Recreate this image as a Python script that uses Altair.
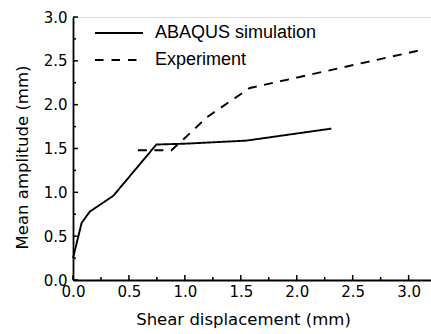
import altair as alt
import pandas as pd

# Mean amplitude vs shear displacement
sim_x = [0.0, 0.077, 0.15, 0.36, 0.745, 1.0, 1.55, 2.31]
sim_y = [0.25, 0.65, 0.78, 0.96, 1.545, 1.555, 1.59, 1.727]

exp_x = [0.58, 0.88, 1.0, 1.2, 1.58, 3.1]
exp_y = [1.48, 1.48, 1.62, 1.86, 2.19, 2.62]

series_names = ["ABAQUS simulation", "Experiment"]
series_dash = [[1, 0], [9, 7.5]]

x_major = [0.0, 0.5, 1.0, 1.5, 2.0, 2.5, 3.0]
x_minor = [0.25, 0.75, 1.25, 1.75, 2.25, 2.75]
y_major = [0.0, 0.5, 1.0, 1.5, 2.0, 2.5, 3.0]
y_minor = [0.25, 0.75, 1.25, 1.75, 2.25, 2.75]

rows = []
for i, (x, y) in enumerate(zip(sim_x, sim_y)):
    rows.append({"series": series_names[0], "x": x, "y": y, "i": i})
for i, (x, y) in enumerate(zip(exp_x, exp_y)):
    rows.append({"series": series_names[1], "x": x, "y": y, "i": i})
df = pd.DataFrame(rows)

W, H = 358, 263
AX_FONT = "DejaVu Sans"

x_scale = alt.Scale(domain=[0, 3.2], nice=False, zero=False)
y_scale = alt.Scale(domain=[0, 3.0], nice=False, zero=False)

x_axis = alt.Axis(
    title="Shear displacement (mm)", values=x_major, format=".1f",
    ticks=False, tickSize=0, grid=False, domainColor="black", domainWidth=1.8,
    labelFont=AX_FONT, labelFontSize=15, labelColor="black", labelPadding=4,
    labelOverlap=False, labelFlush=False,
    titleFont=AX_FONT, titleFontSize=16.5, titleFontWeight="normal", titleColor="black",
    titleX=170, titleY=39, titleBaseline="middle", titleAlign="center",
)
y_axis = alt.Axis(
    title="Mean amplitude (mm)", values=y_major, format=".1f",
    ticks=False, tickSize=0, grid=False, domainColor="black", domainWidth=1.8,
    labelFont=AX_FONT, labelFontSize=15, labelColor="black", labelPadding=6,
    labelOverlap=False, labelFlush=False,
    titleFont=AX_FONT, titleFontSize=16.5, titleFontWeight="normal", titleColor="black",
    titleX=-51, titleY=140, titleBaseline="middle", titleAlign="center", titleAngle=270,
)

lines = alt.Chart(df).mark_line(color="black", strokeWidth=1.9).encode(
    x=alt.X("x:Q", scale=x_scale, axis=x_axis),
    y=alt.Y("y:Q", scale=y_scale, axis=y_axis),
    order="i:Q",
    strokeDash=alt.StrokeDash(
        "series:N",
        scale=alt.Scale(domain=series_names, range=series_dash),
        legend=None,
    ),
)

def tick_layer(values, length, horizontal):
    t = pd.DataFrame({"x": values, "y": values})
    if horizontal:
        return alt.Chart(t).mark_rule(color="black", strokeWidth=1.5).encode(
            x=alt.X("x:Q", scale=x_scale, axis=x_axis),
            y=alt.value(H), y2=alt.value(H - length),
        )
    return alt.Chart(t).mark_rule(color="black", strokeWidth=1.5).encode(
        y=alt.Y("y:Q", scale=y_scale, axis=y_axis),
        x=alt.value(0), x2=alt.value(length),
    )

# Legend block in the upper-left corner of the plot
LEG_X0, LEG_X1, LEG_TX = 22, 70, 82
LEG_ROWS = [16, 43]

def legend_entry(k, dash):
    entry = pd.DataFrame({"label": [series_names[k]]})
    sample = alt.Chart(entry).mark_rule(
        color="black", strokeWidth=1.9, strokeDash=dash
    ).encode(x=alt.value(LEG_X0), x2=alt.value(LEG_X1), y=alt.value(LEG_ROWS[k]))
    label = alt.Chart(entry).mark_text(
        align="left", baseline="middle", font="Liberation Sans", fontSize=18,
        color="black",
    ).encode(x=alt.value(LEG_TX), y=alt.value(LEG_ROWS[k]), text="label:N")
    return sample + label

chart = alt.layer(
    lines,
    tick_layer(x_major, 5, True),
    tick_layer(x_minor, 3, True),
    tick_layer(y_major, 5, False),
    tick_layer(y_minor, 3, False),
    legend_entry(0, [1, 0]),
    legend_entry(1, [8.5, 8]),
).properties(
    width=W, height=H,
    autosize=alt.AutoSizeParams(type="none"),
    padding={"left": 73, "top": 17, "right": 0, "bottom": 54},
).configure_view(stroke=None).configure(background="white")

chart.save("out.html", embed_options={"renderer": "svg", "actions": False})
